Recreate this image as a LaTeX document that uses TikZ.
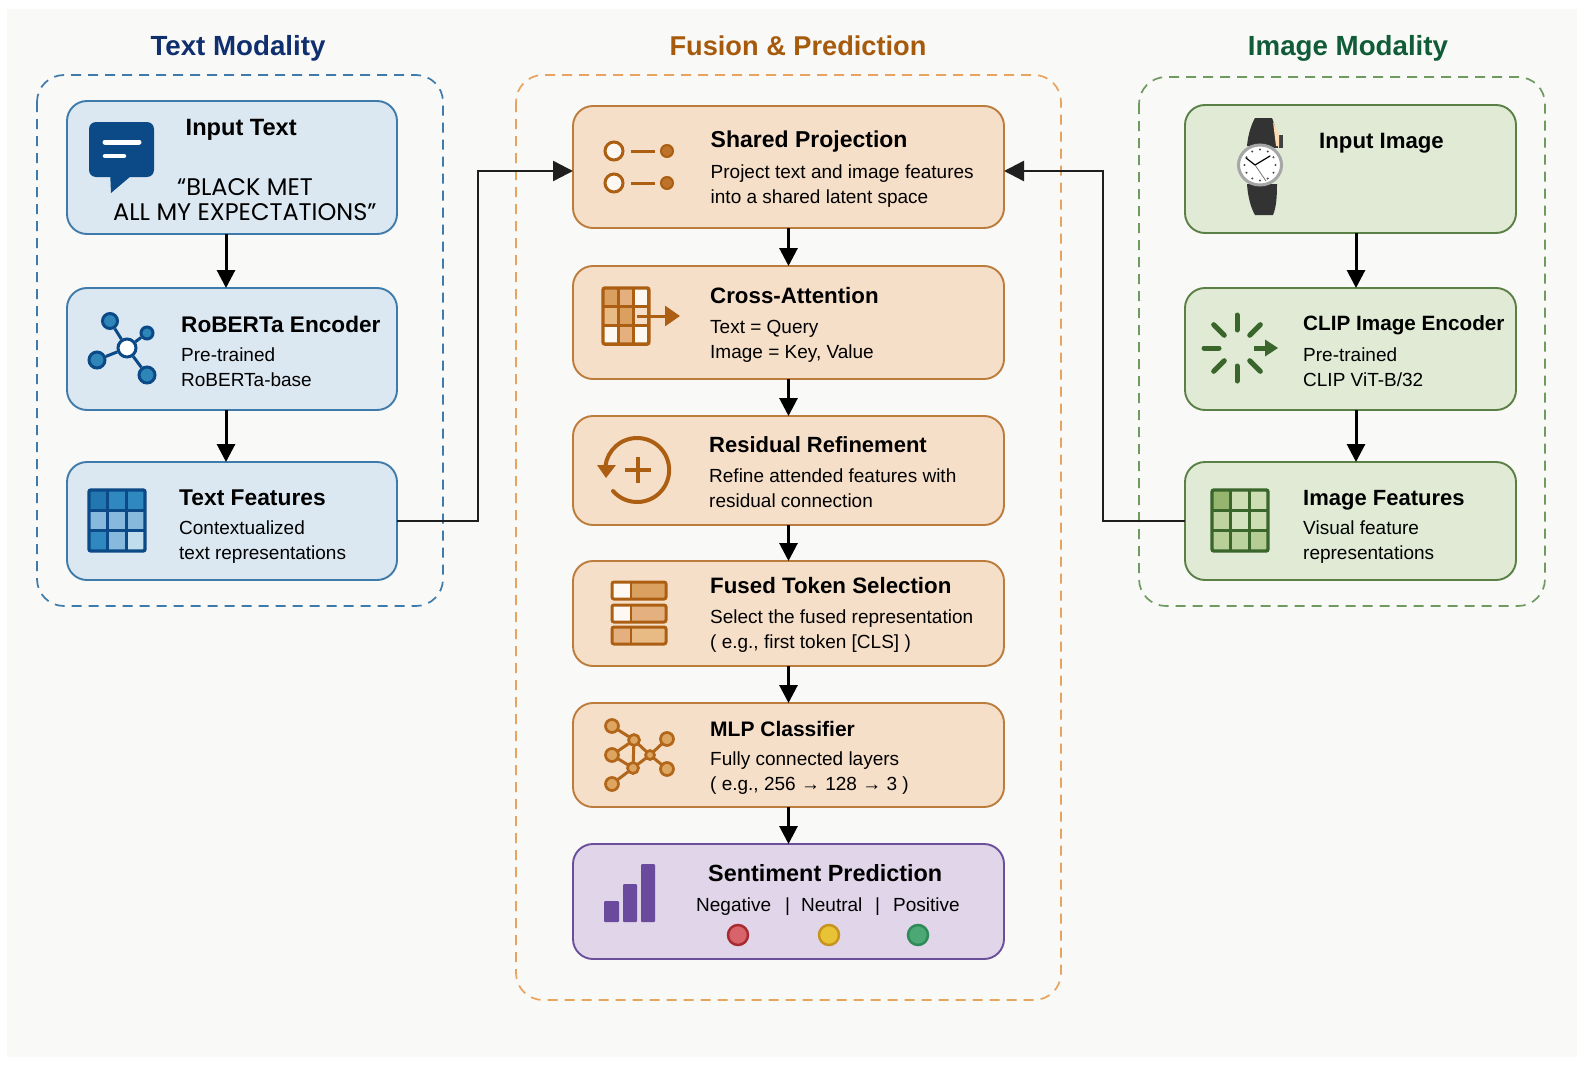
\documentclass[tikz,border=0pt]{standalone}
\usepackage{fontspec}
\setmainfont{Liberation Sans}
\newfontfamily\quotefont{Poppins}
\usetikzlibrary{arrows.meta}
\definecolor{pagebg}{HTML}{F9F9F7}
\definecolor{bluefill}{HTML}{DBE8F2}
\definecolor{blueline}{HTML}{3F7BAA}
\definecolor{bluedark}{HTML}{0B4A86}
\definecolor{bluemid}{HTML}{2E86B8}
\definecolor{orangefill}{HTML}{F6DFC9}
\definecolor{orangeline}{HTML}{BB7C3C}
\definecolor{orangedash}{HTML}{E6A45E}
\definecolor{orangedark}{HTML}{AC5F12}
\definecolor{orangemid}{HTML}{DDA55F}
\definecolor{greenfill}{HTML}{E0EAD5}
\definecolor{greenline}{HTML}{5B8046}
\definecolor{greendash}{HTML}{6F9A60}
\definecolor{greendark}{HTML}{3A652B}
\definecolor{purplefill}{HTML}{E0D5E9}
\definecolor{purpleline}{HTML}{6B4F9B}
\definecolor{purplebar}{HTML}{6A4A9C}
\definecolor{titleblue}{HTML}{0F2F6E}
\definecolor{titleorange}{HTML}{A65A0C}
\definecolor{titlegreen}{HTML}{0F5C36}
\definecolor{ta}{HTML}{2277B0}
\definecolor{tb}{HTML}{3088C0}
\definecolor{tc}{HTML}{86B9DC}
\definecolor{td}{HTML}{C0DDED}
\definecolor{oa}{HTML}{D9A060}
\definecolor{ob}{HTML}{E5B080}
\definecolor{oc}{HTML}{E8BB85}
\definecolor{od}{HTML}{FDF8F2}
\definecolor{ga}{HTML}{96B56E}
\definecolor{gb}{HTML}{CDDDB4}
\definecolor{gc}{HTML}{D4E2C0}
\definecolor{gd}{HTML}{B8CF98}
\definecolor{lampred}{HTML}{D9636B}
\definecolor{lampredline}{HTML}{A82B2F}
\definecolor{lampyellow}{HTML}{E8C336}
\definecolor{lampyellowline}{HTML}{C8941E}
\definecolor{lampgreen}{HTML}{4CA874}
\definecolor{lampgreenline}{HTML}{2E8B57}
\tikzset{
	panelbox/.style={rounded corners=27,line width=1.7,dash pattern=on 10 off 7},
	flowbox/.style={draw,rounded corners=20,line width=1.9,inner sep=0,outer sep=0},
	bluebox/.style={flowbox,fill=bluefill,draw=blueline},
	orangebox/.style={flowbox,fill=orangefill,draw=orangeline},
	greenbox/.style={flowbox,fill=greenfill,draw=greenline},
	purplebox/.style={flowbox,fill=purplefill,draw=purpleline},
	paneltitle/.style={anchor=base,inner sep=0,font=\fontsize{27.7}{30}\bfseries\selectfont},
	headtxt/.style={anchor=base west,inner sep=0,font=\fontsize{#1}{25}\bfseries\selectfont},
	headtxt/.default=22.6,
	bodytxt/.style={anchor=base west,inner sep=0,align=left,font=\fontsize{19}{25}\selectfont},
	quotetxt/.style={anchor=base west,inner sep=0,font=\fontsize{24}{25}\quotefont},
	flow/.style={-{Triangle[length=18,width=18]},line width=3,black},
	elbow/.style={-{Triangle[length=20,width=20]},line width=2.4,black!88},
	icondot/.style={circle,draw,inner sep=0,line width=2.5},
}
\newcommand{\cellgrid}[6]{%
	\begin{scope}[shift={(#1,#2)}]
	\foreach \i/\j/\c in {#6} {\fill[\c] (\i*#3,\j*#4) rectangle ++(#3,#4);}
	\foreach \k in {1,2} {
		\draw[#5,line width=3] (\k*#3,0) -- (\k*#3,3*#4);
		\draw[#5,line width=3] (0,\k*#4) -- (3*#3,\k*#4);
	}
	\draw[#5,line width=3.4,rounded corners=2] (0,0) rectangle (3*#3,3*#4);
	\end{scope}}
\begin{document}
\begin{tikzpicture}[x=1pt,y=-1pt]
	\useasboundingbox (0,0) rectangle (1585,1065);
	\fill[pagebg] (7,9) rectangle (1577,1057);
	% panels
	\draw[panelbox,blueline] (37,75) rectangle (443,606);
	\draw[panelbox,orangedash] (516,75) rectangle (1061,1000);
	\draw[panelbox,greendash] (1139,77) rectangle (1545,606);
	\node[paneltitle,titleblue] (texttitle) at (238,56) {Text Modality};
	\node[paneltitle,titleorange,font=\fontsize{27.2}{30}\bfseries\selectfont] (fusiontitle) at (798,56) {Fusion \& Prediction};
	\node[paneltitle,titlegreen] (imagetitle) at (1348,56) {Image Modality};
	% text column
	\node[bluebox,minimum width=330,minimum height=133] (input) at (232,167.5) {};
	\node[bluebox,minimum width=330,minimum height=122] (roberta) at (232,349) {};
	\node[bluebox,minimum width=330,minimum height=118] (textfeat) at (232,521) {};
	% fusion column
	\node[orangebox,minimum width=431,minimum height=122] (shared) at (788.5,167) {};
	\node[orangebox,minimum width=431,minimum height=113] (cross) at (788.5,322.5) {};
	\node[orangebox,minimum width=431,minimum height=109] (residual) at (788.5,470.5) {};
	\node[orangebox,minimum width=431,minimum height=105] (fused) at (788.5,613.5) {};
	\node[orangebox,minimum width=431,minimum height=104] (mlp) at (788.5,755) {};
	\node[purplebox,minimum width=431,minimum height=115] (sentiment) at (788.5,901.5) {};
	% image column
	\node[greenbox,minimum width=331,minimum height=128] (inimage) at (1350.5,169) {};
	\node[greenbox,minimum width=331,minimum height=122] (clip) at (1350.5,349) {};
	\node[greenbox,minimum width=331,minimum height=118] (imgfeat) at (1350.5,521) {};
	% connectors
	\draw[flow] ([xshift=-6]input.south) -- ([xshift=-6]roberta.north);
	\draw[flow] ([xshift=-6]roberta.south) -- ([xshift=-6]textfeat.north);
	\draw[flow] ([xshift=5.5]inimage.south) -- ([xshift=5.5]clip.north);
	\draw[flow] ([xshift=5.5]clip.south) -- ([xshift=5.5]imgfeat.north);
	\draw[flow] (shared.south) -- (cross.north);
	\draw[flow] (cross.south) -- (residual.north);
	\draw[flow] (residual.south) -- (fused.north);
	\draw[flow] (fused.south) -- (mlp.north);
	\draw[flow] (mlp.south) -- (sentiment.north);
	\coordinate (leftbend) at (478,171);
	\coordinate (rightbend) at (1103,171);
	\draw[elbow] (textfeat.east) -| (leftbend) -- (leftbend -| shared.west);
	\draw[elbow] (imgfeat.west) -| (rightbend) -- (rightbend -| shared.east);
	% text labels
	\node[headtxt=23.6] (inputhead) at (185.5,135) {Input Text};
	\node[quotetxt] (quoteone) at (177,195) {“BLACK MET};
	\node[quotetxt] (quotetwo) at (113,220) {ALL MY EXPECTATIONS”};
	\node[headtxt=22.6] (robertahead) at (181,332) {RoBERTa Encoder};
	\node[bodytxt] (robertabody) at (181,386) {Pre-trained\\RoBERTa-base};
	\node[headtxt=22.8] (textfeathead) at (179,505) {Text Features};
	\node[bodytxt] (textfeatbody) at (179,559) {Contextualized\\text representations};
	\node[headtxt=23] (sharedhead) at (710.5,147.5) {Shared Projection};
	\node[bodytxt] (sharedbody) at (710.5,203) {Project text and image features\\into a shared latent space};
	\node[headtxt=22.3] (crosshead) at (710,303) {Cross-Attention};
	\node[bodytxt] (crossbody) at (710,358) {Text = Query\\Image = Key, Value};
	\node[headtxt=22] (residualhead) at (709,452) {Residual Refinement};
	\node[bodytxt] (residualbody) at (709,507) {Refine attended features with\\residual connection};
	\node[headtxt=22.3] (fusedhead) at (710,593.5) {Fused Token Selection};
	\node[bodytxt] (fusedbody) at (710,648) {Select the fused representation\\( e.g., first token [CLS] )};
	\node[headtxt=21] (mlphead) at (710,736) {MLP Classifier};
	\node[bodytxt] (mlpbody) at (710,790) {Fully connected layers\\( e.g., 256 → 128 → 3 )};
	\node[headtxt=23.4] (sentimenthead) at (708,881) {Sentiment Prediction};
	\node[bodytxt] (negative) at (696,911) {Negative};
	\node[bodytxt] (barone) at (785,911) {|};
	\node[bodytxt] (neutral) at (801,911) {Neutral};
	\node[bodytxt] (bartwo) at (875,911) {|};
	\node[bodytxt] (positive) at (893,911) {Positive};
	\node[headtxt=22.2] (inimagehead) at (1319,148) {Input Image};
	\node[headtxt=20.7] (cliphead) at (1303,330) {CLIP Image Encoder};
	\node[bodytxt] (clipbody) at (1303,386) {Pre-trained\\CLIP ViT-B/32};
	\node[headtxt=22] (imgfeathead) at (1303,505) {Image Features};
	\node[bodytxt] (imgfeatbody) at (1303,559) {Visual feature\\representations};
	% speech bubble
	\fill[bluedark,rounded corners=7] (89,122) rectangle (154,177);
	\fill[bluedark] (110,170) -- (111,193) -- (131,176) -- cycle;
	\draw[white,line width=5,line cap=round] (105,142) -- (139,142);
	\draw[white,line width=4.5,line cap=round] (105,156) -- (124,156);
	% encoder graph
	\node[icondot,bluedark,line width=3,fill=white,minimum size=18] (hub) at (127,348) {};
	\node[icondot,bluedark,line width=3,fill=bluemid,minimum size=15] (leafa) at (110,321) {};
	\node[icondot,bluedark,line width=3,fill=bluemid,minimum size=12] (leafb) at (147,333) {};
	\node[icondot,bluedark,line width=3,fill=bluemid,minimum size=16] (leafc) at (97,360) {};
	\node[icondot,bluedark,line width=3,fill=bluemid,minimum size=16] (leafd) at (147,375) {};
	\foreach \l in {leafa,leafb,leafc,leafd} {\draw[bluedark,line width=3] (hub) -- (\l);}
	% text features grid
	\cellgrid{89}{490}{18.67}{20.33}{bluedark}{0/0/ta,1/0/tb,2/0/tb,0/1/tc,1/1/tc,2/1/tc,0/2/tb,1/2/tc,2/2/td}
	% projection icon
	\foreach \y/\n in {151/one,183/two} {
		\node[icondot,orangedark,line width=3,fill=od,minimum size=18] (open\n) at (614,\y) {};
		\node[icondot,orangedark,line width=2,fill=orangedark!70!orangemid,minimum size=12] (full\n) at (667,\y) {};
		\draw[orangedark,line width=3] (631,\y) -- (655,\y);
	}
	% attention icon
	\cellgrid{603}{288}{15.3}{18.7}{orangedark}{0/0/oa,1/0/ob,2/0/od,0/1/oc,1/1/oa,2/1/orangefill,0/2/od,1/2/ob,2/2/od}
	\draw[-{Triangle[length=15,width=20]},orangedark,line width=3] (637,316) -- (680,316);
	% residual icon
	\draw[orangedark,line width=4,line cap=round] (613,491) arc[start angle=139,end angle=-172,radius=32];
	\fill[orangedark] (597,465) -- (616,465) -- (606,478) -- cycle;
	\draw[orangedark,line width=4] (625,470) -- (651,470);
	\draw[orangedark,line width=4] (638,457) -- (638,483);
	% token rows
	\foreach \y/\cl/\cr in {582/od/oa,605/od/ob,627/ob/oc} {
		\fill[\cr,rounded corners=2] (612,\y) rectangle (666,\y+17);
		\fill[\cl] (612,\y) rectangle (631,\y+17);
		\draw[orangedark,line width=3,rounded corners=2] (612,\y) rectangle (666,\y+17);
		\draw[orangedark,line width=2.8] (631,\y) -- (631,\y+17);
	}
	% classifier graph
	\foreach \n/\x/\y in {ma/612/726,mb/612/755,mc/612/784,md/634/740,me/633/768,mf/650/755,mg/667/739,mh/667/769} {
		\coordinate (\n) at (\x,\y);
	}
	\foreach \a/\b in {ma/md,mb/md,mb/me,mc/me,md/me,md/mf,me/mf,mf/mg,mf/mh} {
		\draw[orangedark!90!orangemid,line width=3] (\a) -- (\b);
	}
	\foreach \n/\r in {ma/6.5,mb/6.5,mc/6.5,md/5.5,me/5.5,mf/4.5,mg/6.5,mh/6.5} {
		\draw[orangedark!90!orangemid,fill=orangemid,line width=2.7] (\n) circle (\r);
	}
	% bars
	\foreach \xa/\xb/\ytop in {604/619/901,623/637/884,641/655/864} {
		\fill[purplebar,rounded corners=1] (\xa,\ytop) rectangle (\xb,922);
	}
	% sentiment lamps
	\node[icondot,draw=lampredline,fill=lampred,minimum size=20] (lampneg) at (738,935) {};
	\node[icondot,draw=lampyellowline,fill=lampyellow,minimum size=20] (lampneu) at (829,935) {};
	\node[icondot,draw=lampgreenline,fill=lampgreen,minimum size=20] (lamppos) at (918,935) {};
	% watch
	\fill[black!80] (1247,146) .. controls (1248,135) and (1251,125) .. (1255,118) -- (1272,118) .. controls (1275,125) and (1277,135) .. (1278,148) -- cycle;
	\fill[black!80] (1247,184) .. controls (1248,198) and (1251,208) .. (1255,215) -- (1273,215) .. controls (1276,208) and (1277,198) .. (1277,184) -- cycle;
	\fill[black!75] (1279,135) rectangle (1283,148);
	\fill[orange!30!white] (1273,122) -- (1279,135) -- (1279,146) -- (1276,146) -- cycle;
	\draw[gray!70,fill=white,line width=3] (1260,165) ellipse (21.5 and 20);
	\foreach \a in {0,30,...,330} {
		\fill[black!70] (1260,165) ++(\a:15.5) circle (1.1);
	}
	\draw[black,line width=1.2,line cap=round] (1246,158) -- (1255,165);
	\draw[black,line width=1.2,line cap=round] (1255,165) -- (1270,156);
	\draw[black!60,line width=.7] (1255,165) -- (1266,181);
	% image encoder icon
	\foreach \a in {45,90,135,180,225,270,315} {
		\draw[greendark,line width=5,line cap=round] (1237,348) ++(\a:18) -- ++(\a:15);
	}
	\draw[greendark,line width=5] (1254,348) -- (1268,348);
	\fill[greendark] (1265,339.5) -- (1278,348) -- (1265,356.5) -- cycle;
	% image features grid
	\cellgrid{1212}{490}{18.67}{20.33}{greendark}{0/0/ga,1/0/gb,2/0/gb,0/1/gd!70!gb,1/1/gc,2/1/gb,0/2/gd,1/2/gd!80!gb,2/2/gd!90!ga}
\end{tikzpicture}
\end{document}
